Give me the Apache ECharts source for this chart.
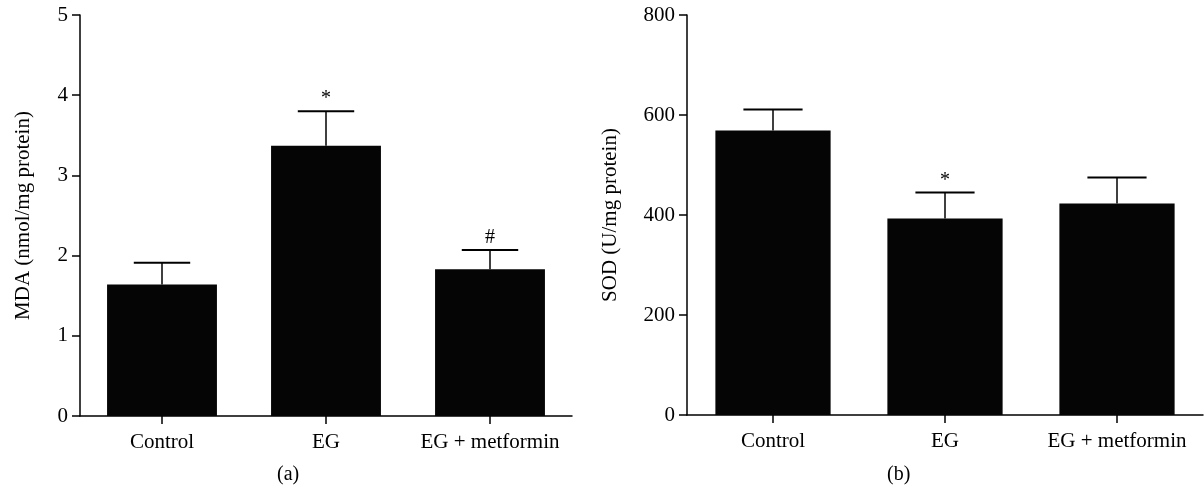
<!DOCTYPE html>
<html>
<head>
<meta charset="utf-8">
<script src="https://cdn.jsdelivr.net/npm/echarts@6/dist/echarts.min.js"></script>
<style>
html,body{margin:0;padding:0;background:#fff;}
#chart{width:1204px;height:489px;}
</style>
</head>
<body>
<div id="chart"></div>
<script>
// ---- data ----
var categories = ['Control', 'EG', 'EG + metformin'];
var mdaMean = [1.64, 3.37, 1.83];
var mdaUpper = [1.91, 3.80, 2.07];
var mdaMarks = ['', '*', '#'];
var sodMean = [569, 393, 423];
var sodUpper = [611, 445, 475];
var sodMarks = ['', '*', ''];
var mdaTicks = {min: 0, max: 5, interval: 1};
var sodTicks = {min: 0, max: 800, interval: 200};

var FONT = '"Liberation Serif", "DejaVu Serif", serif';

function errSeries(idx, means, uppers, marks) {
  return {
    type: 'custom',
    xAxisIndex: idx, yAxisIndex: idx,
    z: 5,
    data: means.map(function (m, i) { return [i, m, uppers[i]]; }),
    renderItem: function (params, api) {
      var i = api.value(0);
      var base = api.coord([i, api.value(1)]);
      var top = api.coord([i, api.value(2)]);
      var half = api.size([1, 0])[0] * 0.172;
      var children = [
        {type: 'line', shape: {x1: base[0], y1: base[1], x2: top[0], y2: top[1]},
         style: {stroke: '#000', lineWidth: 1.5}},
        {type: 'line', shape: {x1: top[0] - half, y1: top[1], x2: top[0] + half, y2: top[1]},
         style: {stroke: '#000', lineWidth: 2}}
      ];
      var mk = marks[params.dataIndex];
      if (mk) {
        children.push({type: 'text', x: top[0], y: top[1] - 2,
          style: {text: mk, fill: '#000', font: '20px ' + FONT, align: 'center', verticalAlign: 'bottom'}});
      }
      return {type: 'group', children: children};
    }
  };
}

function xAxis(idx) {
  return {
    type: 'category', gridIndex: idx, data: categories,
    axisLine: {lineStyle: {color: '#000', width: 1.5}},
    axisTick: {show: true, interval: 0, alignWithLabel: true, length: 8, lineStyle: {color: '#000', width: 1.5}},
    axisLabel: {interval: 0, color: '#000', fontFamily: FONT, fontSize: 21, margin: 16}
  };
}
function yAxis(idx, t, name, gap) {
  return {
    type: 'value', gridIndex: idx, min: t.min, max: t.max, interval: t.interval,
    name: name, nameLocation: 'middle', nameGap: gap,
    nameTextStyle: {color: '#000', fontFamily: FONT, fontSize: 21},
    axisLine: {show: true, lineStyle: {color: '#000', width: 1.5}},
    axisTick: {show: true, length: 8, lineStyle: {color: '#000', width: 1.5}},
    splitLine: {show: false},
    axisLabel: {color: '#000', fontFamily: FONT, fontSize: 21, margin: 12}
  };
}

var chart = echarts.init(document.getElementById('chart'));
chart.setOption({
  animation: false,
  backgroundColor: '#fff',
  grid: [
    {left: 80, right: 632, top: 15, bottom: 73},
    {left: 687, right: 1, top: 15, bottom: 74}
  ],
  xAxis: [xAxis(0), xAxis(1)],
  yAxis: [yAxis(0, mdaTicks, 'MDA (nmol/mg protein)', 46), yAxis(1, sodTicks, 'SOD (U/mg protein)', 66)],
  series: [
    {type: 'bar', xAxisIndex: 0, yAxisIndex: 0, data: mdaMean, barWidth: '67%',
     itemStyle: {color: '#050505'}},
    {type: 'bar', xAxisIndex: 1, yAxisIndex: 1, data: sodMean, barWidth: '67%',
     itemStyle: {color: '#050505'}},
    errSeries(0, mdaMean, mdaUpper, mdaMarks),
    errSeries(1, sodMean, sodUpper, sodMarks)
  ],
  graphic: [
    {type: 'text', left: 277, top: 465, style: {text: '(a)', fill: '#000', font: '20px ' + FONT}},
    {type: 'text', left: 887, top: 465, style: {text: '(b)', fill: '#000', font: '20px ' + FONT}}
  ]
});
</script>
</body>
</html>
